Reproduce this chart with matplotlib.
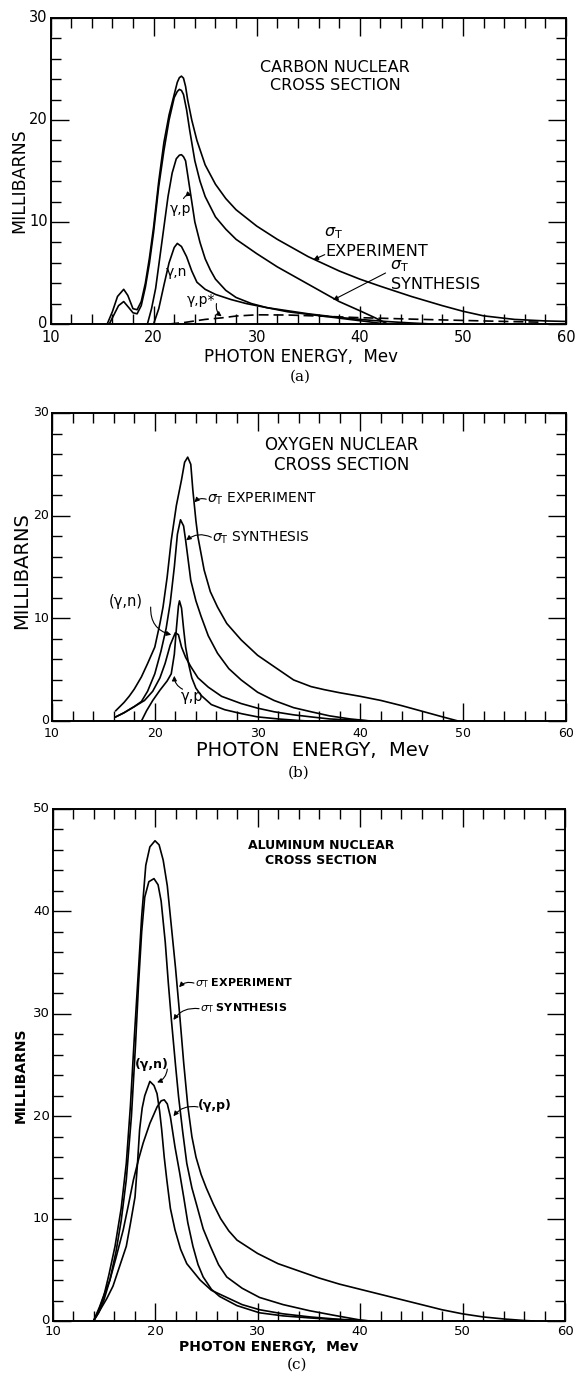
import matplotlib
matplotlib.use("Agg")
import matplotlib.pyplot as plt
from matplotlib.ticker import MultipleLocator

plt.rcParams['font.family'] = ['DejaVu Sans']
plt.rcParams['mathtext.fontset'] = 'dejavusans'
plt.rcParams['lines.solid_joinstyle'] = 'round'

# ---------------- Panel (a): Carbon ----------------
c_exp_x = [15.5, 16.0, 16.5, 17.1, 17.5, 18.0, 18.4, 18.8, 19.2, 19.6, 20.0, 20.5, 21.0, 21.5, 22.0,
           22.3, 22.5, 22.7, 22.9, 23.1, 23.3, 23.7, 24.2, 25.0, 26.0, 27.0, 28.0, 30.0, 32.0, 35.0,
           38.0, 40.0, 42.0, 45.0, 48.0, 50.0, 52.0, 55.0, 58.0, 60.0]
c_exp_y = [0.0, 1.2, 2.7, 3.4, 2.8, 1.5, 1.4, 2.2, 4.0, 6.5, 9.5, 14.0, 17.8, 20.5, 22.5,
           23.7, 24.15, 24.3, 24.1, 23.3, 22.0, 20.0, 18.0, 15.6, 13.7, 12.3, 11.2, 9.6, 8.3, 6.6,
           5.2, 4.4, 3.7, 2.7, 1.8, 1.25, 0.8, 0.45, 0.3, 0.25]

c_syn_x = [15.7, 16.2, 16.6, 17.1, 17.6, 18.0, 18.4, 18.8, 19.2, 19.6, 20.0, 20.5, 21.0, 21.5, 22.0,
           22.3, 22.5, 22.7, 22.9, 23.2, 23.5, 24.0, 24.5, 25.0, 26.0, 27.0, 28.0, 30.0, 32.0, 35.0,
           38.0, 40.0, 41.5, 42.7]
c_syn_y = [0.0, 1.0, 1.8, 2.2, 1.6, 1.1, 1.0, 1.8, 3.6, 6.0, 9.0, 13.5, 17.0, 20.0, 22.2,
           22.8, 23.0, 22.9, 22.5, 21.0, 19.0, 16.0, 14.0, 12.5, 10.5, 9.3, 8.3, 6.9, 5.6, 3.9,
           2.2, 1.3, 0.6, 0.0]

c_gp_x = [19.4, 19.8, 20.2, 20.6, 21.0, 21.4, 21.8, 22.2, 22.5, 22.7, 22.9, 23.1, 23.4, 23.7, 24.0,
          24.5, 25.0, 25.5, 26.0, 27.0, 28.0, 29.5, 31.0, 33.0, 35.0, 37.0, 39.0, 41.0, 42.5]
c_gp_y = [0.0, 1.5, 3.5, 6.5, 9.5, 12.5, 14.8, 16.2, 16.55, 16.6, 16.4, 16.0, 14.0, 12.0, 10.0,
          8.0, 6.4, 5.3, 4.4, 3.3, 2.6, 2.0, 1.6, 1.2, 0.95, 0.7, 0.45, 0.2, 0.0]

c_gn_x = [20.0, 20.5, 21.0, 21.5, 22.0, 22.3, 22.7, 23.2, 23.7, 24.2, 25.0, 26.0, 27.5, 29.0, 31.0,
          33.0, 35.0, 37.5, 40.0, 42.5, 45.0, 47.0]
c_gn_y = [0.0, 1.5, 3.8, 6.0, 7.5, 7.9, 7.6, 6.6, 5.2, 4.1, 3.4, 2.9, 2.4, 2.0, 1.6,
          1.3, 1.0, 0.7, 0.45, 0.25, 0.1, 0.0]

c_gps_x = [21.5, 23.0, 25.0, 26.6, 28.0, 30.0, 33.0, 36.0, 40.0, 42.6, 45.0, 48.0, 52.0, 55.0, 57.5]
c_gps_y = [0.0, 0.15, 0.45, 0.6, 0.78, 0.9, 0.88, 0.78, 0.62, 0.55, 0.48, 0.4, 0.3, 0.23, 0.18]

# ---------------- Panel (b): Oxygen ----------------
o_exp_x = [16.2, 17.0, 17.5, 18.0, 18.7, 19.3, 20.0, 20.5, 20.8, 21.2, 21.6, 22.1, 22.6, 22.9, 23.2,
           23.5, 23.7, 24.0, 24.2, 24.8, 25.4, 26.1, 27.0, 28.4, 30.0, 31.6, 33.5, 35.2, 36.5, 38.0,
           40.0, 42.0, 44.0, 46.0, 48.0, 49.5]
o_exp_y = [1.0, 1.8, 2.4, 3.1, 4.3, 5.6, 7.2, 9.5, 11.1, 14.0, 17.6, 21.0, 23.5, 25.2, 25.7,
           25.0, 22.5, 19.5, 17.9, 14.7, 12.6, 11.1, 9.5, 7.9, 6.4, 5.3, 4.0, 3.35, 3.05, 2.75,
           2.4, 2.0, 1.5, 0.95, 0.4, 0.0]

o_syn_x = [16.2, 17.0, 18.0, 18.7, 19.3, 20.0, 20.6, 21.1, 21.5, 21.9, 22.2, 22.5, 22.8, 23.0, 23.5,
           24.0, 24.5, 25.2, 26.1, 27.2, 28.4, 30.0, 31.6, 33.5, 35.2, 37.0, 39.0, 41.0]
o_syn_y = [0.4, 0.8, 1.4, 1.9, 2.9, 4.6, 6.8, 9.0, 11.5, 15.0, 18.2, 19.6, 19.0, 17.6, 13.7,
           11.7, 10.2, 8.3, 6.6, 5.1, 4.0, 2.8, 2.0, 1.3, 0.9, 0.5, 0.2, 0.0]

o_gn_x = [16.2, 17.0, 18.0, 19.0, 19.8, 20.5, 21.0, 21.5, 22.0, 22.3, 22.6, 23.0, 23.5, 24.2, 25.2,
          26.5, 28.4, 30.0, 31.6, 33.5, 35.2, 37.0, 39.0, 41.0]
o_gn_y = [0.4, 0.8, 1.4, 2.0, 2.9, 4.2, 5.6, 7.4, 8.6, 8.4, 7.2, 6.2, 5.3, 4.2, 3.3,
          2.4, 1.7, 1.25, 0.9, 0.6, 0.4, 0.2, 0.1, 0.0]

o_gp_x = [18.7, 19.2, 19.8, 20.5, 21.2, 21.6, 21.9, 22.1, 22.3, 22.4, 22.6, 22.8, 23.0, 23.3, 23.6,
          24.0, 24.5, 25.5, 26.8, 28.5, 30.0, 32.0, 34.0, 35.0]
o_gp_y = [0.0, 1.0, 2.0, 3.0, 3.9, 4.6, 6.5, 9.0, 11.2, 11.7, 11.0, 9.0, 7.2, 5.5, 4.2,
          3.2, 2.5, 1.6, 1.1, 0.7, 0.4, 0.2, 0.05, 0.0]

# ---------------- Panel (c): Aluminum ----------------
a_exp_x = [14.0, 14.5, 15.0, 15.5, 16.1, 16.7, 17.2, 17.6, 18.0, 18.4, 18.7, 19.1, 19.5, 20.0, 20.4,
           20.8, 21.2, 21.6, 22.0, 22.4, 22.8, 23.2, 23.6, 24.0, 24.5, 25.0, 25.7, 26.4, 27.2, 28.0,
           30.0, 32.0, 34.0, 36.0, 38.0, 40.0, 42.0, 44.0, 46.0, 48.0, 50.0, 52.0, 54.0, 56.0, 57.0]
a_exp_y = [0.0, 1.0, 2.4, 4.5, 7.3, 11.0, 15.4, 21.0, 28.0, 34.5, 39.5, 44.5, 46.3, 46.9, 46.5,
           45.0, 42.5, 38.5, 34.5, 30.0, 25.2, 21.0, 18.0, 16.0, 14.3, 13.0, 11.4, 10.0, 8.8, 7.9,
           6.6, 5.6, 4.9, 4.2, 3.6, 3.1, 2.6, 2.1, 1.6, 1.1, 0.7, 0.4, 0.2, 0.05, 0.0]

a_syn_x = [14.0, 14.5, 15.0, 15.6, 16.2, 16.7, 17.2, 17.7, 18.1, 18.4, 18.7, 19.0, 19.4, 19.9, 20.3,
           20.6, 21.0, 21.3, 21.6, 22.0, 22.3, 22.7, 23.1, 23.6, 24.1, 24.7, 25.4, 26.2, 27.0, 28.5,
           30.2, 32.5, 35.1, 37.5, 40.0, 41.0]
a_syn_y = [0.0, 0.8, 2.0, 4.0, 6.8, 9.8, 13.8, 20.0, 27.0, 33.0, 38.0, 41.4, 42.9, 43.2, 42.6,
           41.0, 37.0, 33.0, 29.4, 25.0, 21.9, 18.5, 15.4, 13.0, 11.2, 9.0, 7.3, 5.5, 4.3, 3.2,
           2.3, 1.6, 1.0, 0.55, 0.1, 0.0]

a_gn_x = [14.0, 14.6, 15.3, 15.9, 16.6, 17.2, 17.6, 18.05, 18.3, 18.5, 18.75, 19.0, 19.5, 19.9, 20.2,
          20.45, 20.65, 20.9, 21.15, 21.5, 21.95, 22.5, 23.1, 24.4, 25.5, 27.0, 28.5, 30.2, 32.5, 35.1,
          37.5, 40.0, 41.0]
a_gn_y = [0.0, 1.0, 2.2, 3.4, 5.5, 7.3, 9.5, 12.1, 15.5, 18.7, 20.8, 22.0, 23.4, 23.0, 22.2,
          20.5, 18.7, 16.0, 13.8, 11.0, 8.9, 7.0, 5.6, 4.0, 3.0, 2.3, 1.6, 1.1, 0.7, 0.4,
          0.2, 0.05, 0.0]

a_gp_x = [14.0, 14.6, 15.0, 15.6, 16.2, 16.9, 17.4, 17.9, 18.4, 18.85, 19.5, 20.2, 20.6, 20.9, 21.2,
          21.5, 21.95, 22.4, 22.8, 23.2, 23.7, 24.2, 24.7, 25.5, 26.3, 28.0, 30.2, 32.5, 35.1, 37.5,
          40.0]
a_gp_y = [0.0, 1.4, 2.5, 4.0, 6.2, 8.9, 11.3, 13.8, 15.8, 17.4, 19.3, 20.9, 21.5, 21.6, 21.2,
          19.95, 17.0, 14.5, 12.1, 9.6, 7.3, 5.5, 4.3, 3.1, 2.4, 1.5, 0.8, 0.5, 0.3, 0.15,
          0.05]

XTICKS = [10, 20, 30, 40, 50, 60]

LW = 1.2
fig = plt.figure(figsize=(5.77, 13.74), dpi=100)

ax_a = fig.add_axes([50.5/577, 1-324/1374, 515.5/577, 306/1374])
ax_b = fig.add_axes([52/577, 1-721/1374, 514/577, 308/1374])
ax_c = fig.add_axes([52.5/577, 1-1321/1374, 512.5/577, 512/1374])


def style(ax, ymax, fs, xpad):
    ax.set_xlim(10, 60)
    ax.set_ylim(0, ymax)
    ax.set_xticks(XTICKS)
    ax.xaxis.set_minor_locator(MultipleLocator(2))
    ax.yaxis.set_major_locator(MultipleLocator(10))
    ax.yaxis.set_minor_locator(MultipleLocator(2))
    ax.tick_params(which='both', direction='in', top=True, right=True, width=1.0,
                   labelsize=fs)
    ax.tick_params(which='major', length=13)
    ax.tick_params(which='minor', length=7)
    ax.tick_params(axis='x', pad=xpad)
    ax.tick_params(axis='y', pad=2)
    labs = ax.get_yticklabels()
    for i, lab in enumerate(labs):
        lab.set_verticalalignment('bottom' if i == 0 else 'center')
    for s in ax.spines.values():
        s.set_linewidth(1.4)


def arrow(ax, xy_from, xy_to, rad=0.0):
    ax.annotate('', xy=xy_to, xytext=xy_from,
                arrowprops=dict(arrowstyle='-|>', lw=0.8, color='k', mutation_scale=7,
                                shrinkA=0, shrinkB=0,
                                connectionstyle='arc3,rad=%s' % rad))


# ---- (a) ----
ax = ax_a
style(ax, 30, 10.5, 4)
ax.plot(c_exp_x, c_exp_y, color='k', lw=LW)
ax.plot(c_syn_x, c_syn_y, color='k', lw=LW)
ax.plot(c_gp_x, c_gp_y, color='k', lw=LW)
ax.plot(c_gn_x, c_gn_y, color='k', lw=LW)
ax.plot(c_gps_x, c_gps_y, color='k', lw=LW, ls=(0, (6, 3)))
ax.text(37.6, 24.3, 'CARBON NUCLEAR\nCROSS SECTION', ha='center', va='center', fontsize=11.5,
        linespacing=1.25)
ax.text(37.4, 8.1, r'$\sigma_{\rm T}$', ha='center', va='bottom', fontsize=11.5)
ax.text(36.7, 7.1, 'EXPERIMENT', ha='left', va='center', fontsize=11.5)
arrow(ax, (36.6, 6.8), (35.5, 6.3))
ax.text(43.8, 4.9, r'$\sigma_{\rm T}$', ha='center', va='bottom', fontsize=11.5)
ax.text(43.0, 3.9, 'SYNTHESIS', ha='left', va='center', fontsize=11.5)
arrow(ax, (42.5, 5.0), (37.4, 2.35))
ax.text(22.6, 11.3, 'γ,p', ha='center', va='center', fontsize=10)
arrow(ax, (22.9, 12.3), (23.7, 12.6), rad=-0.4)
ax.text(22.2, 5.1, 'γ,n', ha='center', va='center', fontsize=10)
ax.text(24.6, 2.4, 'γ,p*', ha='center', va='center', fontsize=10)
arrow(ax, (26.1, 2.0), (26.6, 0.75), rad=0.3)
ax.set_ylabel('MILLIBARNS', fontsize=12.5)
ax.yaxis.set_label_coords(-0.044, 0.47)
ax.set_xlabel('PHOTON ENERGY,  Mev', fontsize=12)
ax.xaxis.set_label_coords(0.486, -0.078)
ax.text(0.484, -0.173, '(a)', transform=ax.transAxes, ha='center', va='center',
        fontsize=11, family='DejaVu Serif')

# ---- (b) ----
ax = ax_b
style(ax, 30, 9, 4)
ax.plot(o_exp_x, o_exp_y, color='k', lw=LW)
ax.plot(o_syn_x, o_syn_y, color='k', lw=LW)
ax.plot(o_gn_x, o_gn_y, color='k', lw=LW)
ax.plot(o_gp_x, o_gp_y, color='k', lw=LW)
ax.text(38.2, 25.9, 'OXYGEN NUCLEAR\nCROSS SECTION', ha='center', va='center', fontsize=12,
        linespacing=1.15)
ax.text(25.1, 21.6, r'$\sigma_{\rm T}$ EXPERIMENT', ha='left', va='center', fontsize=10)
arrow(ax, (25.0, 21.6), (23.85, 21.3), rad=0.3)
ax.text(25.6, 17.8, r'$\sigma_{\rm T}$ SYNTHESIS', ha='left', va='center', fontsize=10)
arrow(ax, (25.5, 17.9), (23.05, 17.6), rad=0.3)
ax.text(17.2, 11.6, '(γ,n)', ha='center', va='center', fontsize=10.5)
arrow(ax, (19.6, 11.1), (21.6, 8.4), rad=0.4)
ax.text(23.6, 2.4, 'γ,p', ha='center', va='center', fontsize=10.5)
arrow(ax, (22.7, 3.1), (21.9, 4.4), rad=-0.3)
ax.set_ylabel('MILLIBARNS', fontsize=14)
ax.yaxis.set_label_coords(-0.041, 0.49)
ax.set_xlabel('PHOTON  ENERGY,  Mev', fontsize=14)
ax.xaxis.set_label_coords(0.508, -0.064)
ax.text(0.479, -0.168, '(b)', transform=ax.transAxes, ha='center', va='center',
        fontsize=11, family='DejaVu Serif')

# ---- (c) ----
ax = ax_c
style(ax, 50, 9.5, 3)
ax.plot(a_exp_x, a_exp_y, color='k', lw=LW)
ax.plot(a_syn_x, a_syn_y, color='k', lw=LW)
ax.plot(a_gn_x, a_gn_y, color='k', lw=LW)
ax.plot(a_gp_x, a_gp_y, color='k', lw=LW)
ax.text(36.2, 45.75, 'ALUMINUM NUCLEAR\nCROSS SECTION', ha='center', va='center', fontsize=9,
        fontweight='bold', linespacing=1.2)
ax.text(23.9, 33.0, r'$\sigma_{\rm T}$ EXPERIMENT', ha='left', va='center', fontsize=8,
        fontweight='bold')
arrow(ax, (23.8, 33.0), (22.35, 32.6), rad=0.3)
ax.text(24.4, 30.6, r'$\sigma_{\rm T}$ SYNTHESIS', ha='left', va='center', fontsize=8,
        fontweight='bold')
arrow(ax, (24.3, 30.5), (21.8, 29.4), rad=0.3)
ax.text(19.7, 24.4, '(γ,n)', ha='center', va='bottom', fontsize=9, fontweight='bold')
arrow(ax, (21.2, 24.6), (20.2, 23.3), rad=-0.3)
ax.text(24.2, 21.0, '(γ,p)', ha='left', va='center', fontsize=9, fontweight='bold')
arrow(ax, (24.2, 20.9), (21.8, 20.0), rad=0.3)
ax.set_ylabel('MILLIBARNS', fontsize=10, fontweight='bold')
ax.yaxis.set_label_coords(-0.048, 0.48)
ax.set_xlabel('PHOTON ENERGY,  Mev', fontsize=10, fontweight='bold')
ax.xaxis.set_label_coords(0.422, -0.037)
ax.text(0.477, -0.086, '(c)', transform=ax.transAxes, ha='center', va='center',
        fontsize=11, family='DejaVu Serif')

fig.savefig('out.png', dpi=100, facecolor='white')
